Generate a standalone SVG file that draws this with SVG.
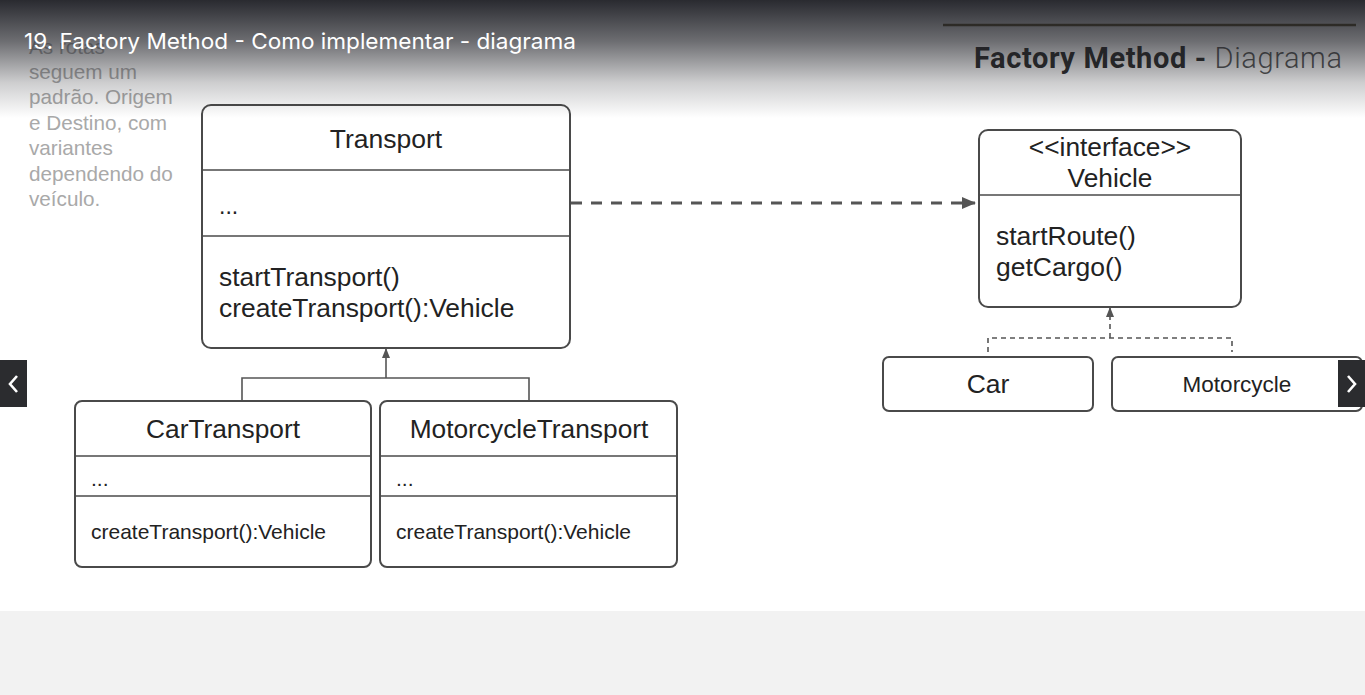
<svg xmlns="http://www.w3.org/2000/svg" width="1365" height="695" viewBox="0 0 1365 695">
<defs>
<linearGradient id="topfade" x1="0" y1="0" x2="0" y2="1">
<stop offset="0" stop-color="#1e1f25" stop-opacity="0.95"/>
<stop offset="0.35" stop-color="#1e1f25" stop-opacity="0.65"/>
<stop offset="0.7" stop-color="#1e1f25" stop-opacity="0.22"/>
<stop offset="1" stop-color="#1e1f25" stop-opacity="0"/>
</linearGradient>
<marker id="arr" markerWidth="14" markerHeight="12" refX="13" refY="6" orient="auto" markerUnits="userSpaceOnUse">
<path d="M0,0 L14,6 L0,12 Z" fill="#555"/>
</marker>
<marker id="arrs" markerWidth="10" markerHeight="10" refX="9" refY="5" orient="auto" markerUnits="userSpaceOnUse">
<path d="M0,1 L10,5 L0,9 Z" fill="#555"/>
</marker>
</defs>
<style>
.box{fill:#fff;stroke:#4a4a4a;stroke-width:2}
.div{stroke:#4a4a4a;stroke-width:1.6;fill:none}
.t{font-family:Arial,"Liberation Sans",Helvetica,sans-serif;fill:#222}
.c{text-anchor:middle}
.conn{stroke:#555;fill:none}
.side{font-family:Arial,"Liberation Sans",Helvetica,sans-serif;font-size:20.7px;fill:#a9a9a9}
</style>
<rect x="0" y="0" width="1365" height="695" fill="#fff"/>
<rect x="0" y="611" width="1365" height="84" fill="#f2f2f2"/>

<g id="side-note" class="side">
<text x="29" y="54">As rotas</text>
<text x="29" y="79">seguem um</text>
<text x="29" y="104">padrão. Origem</text>
<text x="29" y="130">e Destino, com</text>
<text x="29" y="155">variantes</text>
<text x="29" y="181">dependendo do</text>
<text x="29" y="206">veículo.</text>
</g>

<g id="transport">
<rect class="box" x="202" y="105" width="368" height="243" rx="9"/>
<line class="div" x1="202" y1="170" x2="570" y2="170"/>
<line class="div" x1="202" y1="236" x2="570" y2="236"/>
<text class="t c" x="386" y="148" font-size="26.5">Transport</text>
<text class="t" x="219" y="214" font-size="23">...</text>
<text class="t" x="219" y="286" font-size="26.4">startTransport()</text>
<text class="t" x="219" y="317" font-size="26.4">createTransport():Vehicle</text>
</g>

<g id="vehicle">
<rect class="box" x="979" y="130" width="262" height="177" rx="9"/>
<line class="div" x1="979" y1="195" x2="1241" y2="195"/>
<text class="t c" x="1110" y="156" font-size="26.3">&lt;&lt;interface&gt;&gt;</text>
<text class="t c" x="1110" y="187" font-size="26.3">Vehicle</text>
<text class="t" x="996" y="245" font-size="26.5">startRoute()</text>
<text class="t" x="996" y="276" font-size="26.5">getCargo()</text>
</g>

<g id="cartransport">
<rect class="box" x="75" y="401" width="296" height="166" rx="7"/>
<line class="div" x1="75" y1="456" x2="371" y2="456"/>
<line class="div" x1="75" y1="496" x2="371" y2="496"/>
<text class="t c" x="223" y="438" font-size="26.3">CarTransport</text>
<text class="t" x="91" y="486" font-size="21">...</text>
<text class="t" x="91" y="539" font-size="21">createTransport():Vehicle</text>
</g>

<g id="motorcycletransport">
<rect class="box" x="380" y="401" width="297" height="166" rx="7"/>
<line class="div" x1="380" y1="456" x2="677" y2="456"/>
<line class="div" x1="380" y1="496" x2="677" y2="496"/>
<text class="t c" x="529" y="438" font-size="26.3">MotorcycleTransport</text>
<text class="t" x="396" y="486" font-size="21">...</text>
<text class="t" x="396" y="539" font-size="21">createTransport():Vehicle</text>
</g>

<g id="car">
<rect class="box" x="883" y="357" width="210" height="54" rx="6"/>
<text class="t c" x="988" y="393" font-size="26.5">Car</text>
</g>

<g id="motorcycle">
<rect class="box" x="1112" y="357" width="250" height="54" rx="6"/>
<text class="t c" x="1237" y="392" font-size="22.5">Motorcycle</text>
</g>

<g id="connectors">
<line class="conn" x1="571" y1="203" x2="975" y2="203" style="stroke-width:3;stroke-dasharray:11,9" marker-end="url(#arr)"/>
<polyline class="conn" points="242,400 242,378 529,378 529,400" style="stroke-width:1.6"/>
<line class="conn" x1="386" y1="378" x2="386" y2="349" style="stroke-width:1.6" marker-end="url(#arrs)"/>
<polyline class="conn" points="988,352 988,338 1232,338 1232,352" style="stroke-width:1.6;stroke-dasharray:5,4"/>
<line class="conn" x1="1110" y1="338" x2="1110" y2="308" style="stroke-width:1.6;stroke-dasharray:5,4" marker-end="url(#arrs)"/>
</g>

<g id="slide-header">
<line x1="943" y1="25" x2="1356" y2="25" stroke="#5f522c" stroke-width="2.5"/>
<text x="974" y="68" font-family="Roboto,'Liberation Sans',sans-serif" font-size="29" fill="#2a2a2a" textLength="368" lengthAdjust="spacing"><tspan font-weight="bold">Factory Method - </tspan><tspan font-weight="300" fill="#555">Diagrama</tspan></text>
</g>

<rect x="0" y="0" width="1365" height="118" fill="url(#topfade)"/>

<g id="video-title">
<text x="24" y="49" font-family="Inter,Roboto,'Liberation Sans',sans-serif" font-size="22" fill="#fff" textLength="552" lengthAdjust="spacingAndGlyphs">19. Factory Method - Como implementar - diagrama</text>
</g>

<g id="nav-prev">
<rect x="0" y="360" width="27" height="47" fill="#2b2c2f"/>
<polyline points="17,376 10,384 17,392" fill="none" stroke="#fff" stroke-width="2.6"/>
</g>
<g id="nav-next">
<rect x="1338" y="360" width="27" height="47" fill="#2b2c2f"/>
<polyline points="1348,376 1355,384 1348,392" fill="none" stroke="#fff" stroke-width="2.6"/>
</g>
</svg>
